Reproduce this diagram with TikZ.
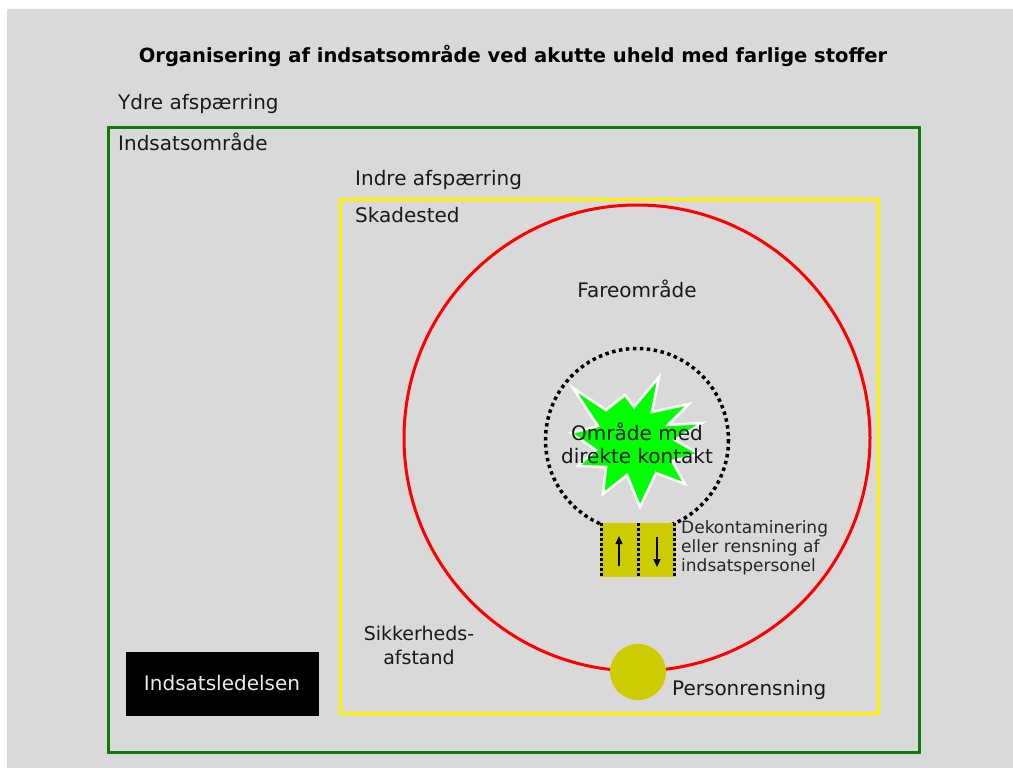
\documentclass[tikz,border=0pt]{standalone}
\usepackage{fontspec}
\setmainfont{DejaVu Sans}
\usetikzlibrary{arrows.meta}
\definecolor{bg}{HTML}{D9D9D9}
\definecolor{dgreen}{HTML}{0F7A0F}
\definecolor{olive}{HTML}{CCCC00}
\definecolor{bright}{HTML}{00FF00}
\tikzset{
  lbl/.style={inner sep=0pt, font=\fontsize{20}{24}\selectfont, text=black!90, anchor=west, text height=14pt, text depth=2pt},
  clbl/.style={inner sep=0pt, font=\fontsize{20}{24}\selectfont, text=black!90, align=center},
  zone/.style={line width=3pt},
  dots/.style={line width=3.5pt, dash pattern=on 3.5pt off 3.5pt},
}
\begin{document}
\begin{tikzpicture}[x=1pt,y=-1pt]
\useasboundingbox (0,0) rectangle (1013,768);
\fill[bg] (7,9) rectangle (1013,768);
\node[font=\bfseries\fontsize{19.5}{22}\selectfont, inner sep=0pt] (title) at (513,56) {Organisering af indsatsområde ved akutte uheld med farlige stoffer};
\node[lbl] (ydre) at (118,104) {Ydre afspærring};
\draw[zone, dgreen] (108,127) rectangle (919,752);
\node[lbl] (indsats) at (118,144) {Indsatsområde};
\node[lbl] (indre) at (355,179) {Indre afspærring};
\draw[zone, yellow] (340,199) rectangle (878,713);
\node[lbl] (skade) at (355,216) {Skadested};
\draw[zone, red] (637,438) circle (233);
\node[clbl] (fare) at (637,289) {Fareområde};
% starburst
\fill[bright, draw=white, line width=2.5pt, line join=miter]
 (573,388) -- (606,410) -- (625,395) -- (634,407) -- (659,377) -- (652,412) -- (689,404) -- (668,425) -- (702,423) -- (675,440) -- (699,454) -- (672,461) -- (685,484) -- (656,473) -- (640,507) -- (627,475) -- (603,494) -- (606,467) -- (578,466) -- (596,450) -- (571,433) -- (598,426) -- cycle;
\draw[dots] (637,440) circle (91.5);
\node[clbl, font=\fontsize{20}{23}\selectfont] (direkte) at (637,443) {Område med\\direkte kontakt};
% decon
\fill[olive] (600,523) rectangle (676,577);
\draw[line width=3pt, dash pattern=on 2.5pt off 2.5pt] (601.5,523) -- (601.5,577) (638,523) -- (638,577) (674.5,523) -- (674.5,577);
\coordinate (u1) at (619,566); \coordinate (u2) at (619,536);
\coordinate (d1) at (657,537); \coordinate (d2) at (657,567);
\draw[line width=1.4pt, -{Triangle[length=8pt,width=7pt]}] (u1) -- (u2);
\draw[line width=1.4pt, -{Triangle[length=8pt,width=7pt]}] (d1) -- (d2);
\node[inner sep=0pt, anchor=north west, align=left, font=\fontsize{17}{19}\selectfont, text=black!85] (dekon) at (681,520) {Dekontaminering\\eller rensning af\\indsatspersonel};
\fill[olive] (638,672) circle (28);
\node[lbl] (person) at (672,689) {Personrensning};
\node[clbl, font=\fontsize{19}{24}\selectfont] (sikker) at (419,645) {Sikkerheds-\\afstand};
\node[fill=black, draw=white!85!black, line width=0.8pt, minimum width=194pt, minimum height=65pt, text=white!92!black, font=\fontsize{20}{24}\selectfont] (led) at (222,683.5) {Indsatsledelsen};
\end{tikzpicture}
\end{document}
